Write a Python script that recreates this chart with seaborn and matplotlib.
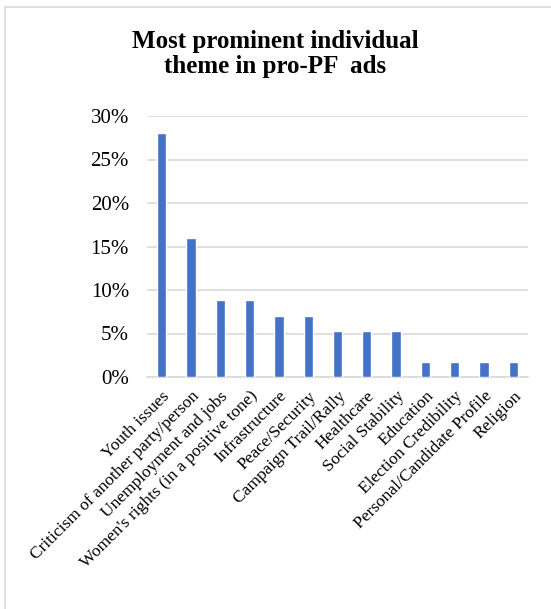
import pandas as pd
import numpy as np
import matplotlib.pyplot as plt
import seaborn as sns
from matplotlib.ticker import PercentFormatter
from matplotlib.patches import Rectangle

themes = ["Youth issues", "Criticism of another party/person", "Unemployment and jobs",
          "Women's rights (in a positive tone)", "Infrastructure", "Peace/Security",
          "Campaign Trail/Rally", "Healthcare", "Social Stability", "Education",
          "Election Credibility", "Personal/Candidate Profile", "Religion"]
shares = [28.1, 16.0, 8.8, 8.8, 7.0, 7.0, 5.3, 5.3, 5.3, 1.75, 1.75, 1.75, 1.75]
yticks = [0, 5, 10, 15, 20, 25, 30]

df = pd.DataFrame({"theme": themes, "share": shares})

sns.set_style("white")
plt.rcParams['font.family'] = ['Liberation Serif', 'DejaVu Serif']
plt.rcParams['text.color'] = 'black'

fig = plt.figure(figsize=(5.51, 6.09), dpi=100)
ax = fig.add_axes([147 / 551, 1 - 377 / 609, 381 / 551, 261 / 609])

sns.barplot(data=df, x="theme", y="share", color="#4472C4", width=0.32,
            saturation=1, ax=ax, zorder=3)

ax.set_ylim(0, 30)
ax.set_yticks(yticks)
ax.yaxis.set_major_formatter(PercentFormatter(decimals=0))
ax.grid(axis="y", color="#D9D9D9", linewidth=1.2, zorder=0)
ax.set_xlabel("")
ax.set_ylabel("")
for s in ["top", "right", "left"]:
    ax.spines[s].set_visible(False)
ax.spines["bottom"].set_color("#D9D9D9")
ax.spines["bottom"].set_linewidth(1.2)
ax.tick_params(axis="y", length=0, labelsize=15, colors="black", pad=13)
ax.set_xticks(range(len(themes)))
ax.set_xticklabels(themes, rotation=45, ha="right", rotation_mode="anchor")
ax.tick_params(axis="x", length=0, labelsize=12.5, colors="black", pad=8)

fig.text(0.5, 1 - 54 / 609, "Most prominent individual\ntheme in pro-PF  ads",
         ha="center", va="center", fontsize=18, fontweight="bold",
         linespacing=1.15, color="black")

fig.patches.append(Rectangle((5 / 551, -0.1), 1.2, 1 - 7 / 609 + 0.1,
                             transform=fig.transFigure, fill=False,
                             edgecolor="#D9D9D9", linewidth=1.2))

fig.savefig("out.png", dpi=100)
